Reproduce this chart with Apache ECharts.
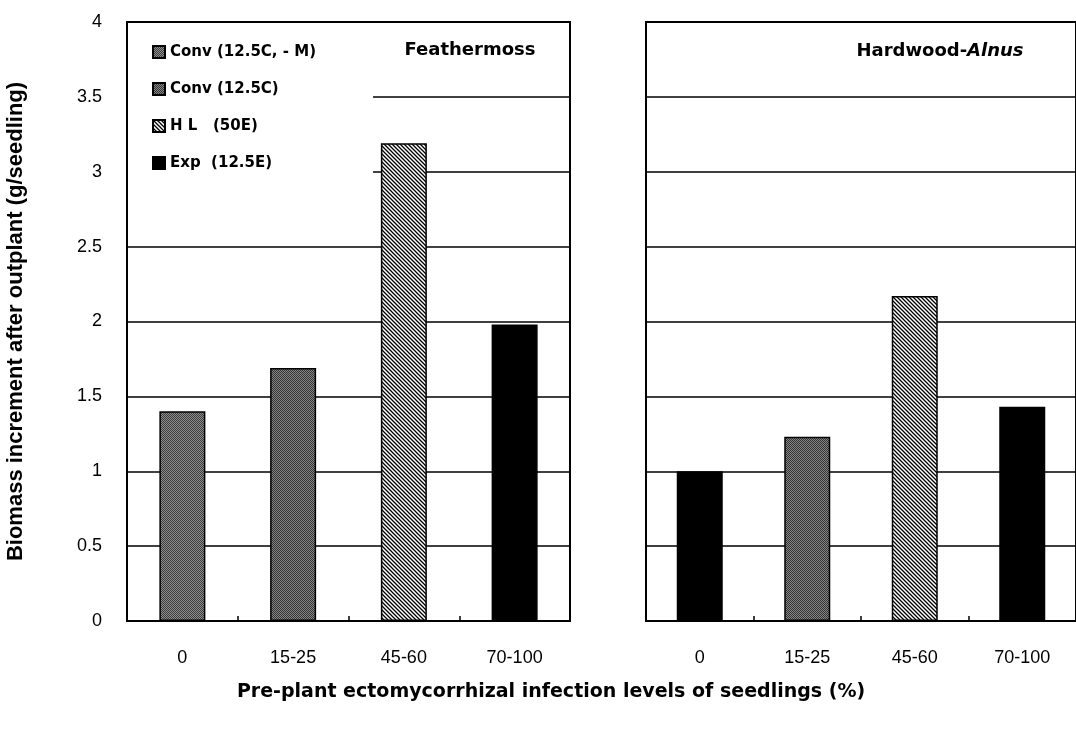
<!DOCTYPE html>
<html>
<head>
<meta charset="utf-8">
<script src="https://cdn.jsdelivr.net/npm/echarts@6/dist/echarts.min.js"></script>
<style>html,body{margin:0;padding:0;background:#fff;}#c{width:1076px;height:731px;}</style>
</head>
<body>
<div id="c"></div>
<script>
// ---- data ----
var categories = ['0', '15-25', '45-60', '70-100'];
var seriesNames = ['Conv (12.5C, - M)', 'Conv (12.5C)', 'H L   (50E)', 'Exp  (12.5E)'];
// Feathermoss panel
var featherConvM = [1.40, '-', '-', '-'];
var featherConv  = ['-', 1.69, '-', '-'];
var featherHL    = ['-', '-', 3.19, '-'];
var featherExp   = ['-', '-', '-', 1.98];
// Hardwood-Alnus panel
var hardConvM = ['-', '-', '-', '-'];
var hardConv  = ['-', 1.23, '-', '-'];
var hardHL    = ['-', '-', 2.17, '-'];
var hardExp   = [1.00, '-', '-', 1.43];
var yTicks = { min: 0, max: 4, interval: 0.5 };
var panelTitles = ['Feathermoss', 'Hardwood-', 'Alnus'];
var yTitle = 'Biomass increment after outplant (g/seedling)';
var xTitle = 'Pre-plant ectomycorrhizal infection levels of seedlings (%)';

// ---- patterns ----
function makeGray(light, dark) {
  var c = document.createElement('canvas'); c.width = 4; c.height = 4;
  var g = c.getContext('2d');
  g.fillStyle = light; g.fillRect(0, 0, 4, 4);
  g.fillStyle = dark;
  for (var i = 0; i < 4; i++) { g.fillRect(i, i, 1, 1); g.fillRect((i + 2) % 4, i, 1, 1); }
  return { image: c, repeat: 'repeat' };
}
function makeHatch() {
  var c = document.createElement('canvas'); c.width = 4; c.height = 4;
  var g = c.getContext('2d');
  g.fillStyle = '#fff'; g.fillRect(0, 0, 4, 4);
  g.strokeStyle = '#000'; g.lineWidth = 1.3;
  g.beginPath();
  g.moveTo(-1, -1); g.lineTo(5, 5);
  g.moveTo(-1, 3); g.lineTo(1, 5);
  g.moveTo(3, -1); g.lineTo(5, 1);
  g.stroke();
  return { image: c, repeat: 'repeat' };
}
var fills = [makeGray('#8e8e8e', '#3c3c3c'), makeGray('#868686', '#343434'), makeHatch(), '#000'];

var font = "'Liberation Sans', Arial, Helvetica, sans-serif";
var chart = echarts.init(document.getElementById('c'), null, { renderer: 'canvas' });

function mk(name, data, idx, fill) {
  return {
    name: name, type: 'bar', data: data,
    xAxisIndex: idx, yAxisIndex: idx,
    barWidth: 46, barGap: '-100%',
    itemStyle: { color: fill, borderColor: '#000', borderWidth: 1.5 },
    emphasis: { disabled: true },
    animation: false
  };
}

function xAx(idx) {
  return {
    type: 'category', gridIndex: idx, data: categories,
    axisLine: { lineStyle: { color: '#000', width: 2 } },
    axisTick: { show: true, inside: true, length: 5, lineStyle: { color: '#000', width: 1.5 } },
    axisLabel: { color: '#000', fontSize: 18, fontFamily: font, margin: 28 }
  };
}
function yAx(idx) {
  return {
    type: 'value', gridIndex: idx, min: yTicks.min, max: yTicks.max, interval: yTicks.interval,
    axisLine: { show: true, lineStyle: { color: '#000', width: 2 } },
    axisTick: { show: false },
    axisLabel: { show: idx === 0, color: '#000', fontSize: 18, fontFamily: font, margin: 25 },
    splitLine: { show: true, lineStyle: { color: '#000', width: 1.6 } },
    name: idx === 0 ? yTitle : '',
    nameLocation: 'middle', nameGap: 100, nameRotate: 90,
    nameTextStyle: { color: '#000', fontSize: 22, fontWeight: 'bold', fontFamily: font }
  };
}

chart.setOption({
  animation: false,
  backgroundColor: '#fff',
  grid: [
    { left: 127, top: 22, width: 443, height: 599, show: true, borderColor: '#000', borderWidth: 2 },
    { left: 646, top: 22, width: 443, height: 599, show: true, borderColor: '#000', borderWidth: 2 }
  ],
  xAxis: [xAx(0), xAx(1)],
  yAxis: [yAx(0), yAx(1)],
  legend: {
    data: seriesNames,
    icon: 'rect',
    orient: 'vertical', left: 128, top: 24,
    padding: [20, 57, 8, 24],
    itemGap: 21, itemWidth: 12, itemHeight: 12,
    backgroundColor: '#fff',
    selectedMode: false,
    textStyle: { color: '#000', fontSize: 15, fontWeight: 'bold', fontFamily: 'DejaVu Sans, sans-serif', lineHeight: 16 }
  },
  series: [
    mk(seriesNames[0], featherConvM, 0, fills[0]),
    mk(seriesNames[1], featherConv, 0, fills[1]),
    mk(seriesNames[2], featherHL, 0, fills[2]),
    mk(seriesNames[3], featherExp, 0, fills[3]),
    mk(seriesNames[0], hardConvM, 1, fills[0]),
    mk(seriesNames[1], hardConv, 1, fills[1]),
    mk(seriesNames[2], hardHL, 1, fills[2]),
    mk(seriesNames[3], hardExp, 1, fills[3])
  ],
  graphic: [
    { type: 'text', x: 470, y: 50, z: 100,
      style: { text: panelTitles[0], fill: '#000', font: 'bold 18px DejaVu Sans, sans-serif', textAlign: 'center', textVerticalAlign: 'middle' } },
    { type: 'text', x: 940, y: 51, z: 100,
      style: { text: '{a|' + panelTitles[1] + '}{b|' + panelTitles[2] + '}', align: 'center', verticalAlign: 'middle',
        rich: { a: { fontSize: 18, fontWeight: 'bold', fontFamily: 'DejaVu Sans, sans-serif', fill: '#000' },
                b: { fontSize: 18, fontWeight: 'bold', fontStyle: 'italic', fontFamily: 'DejaVu Sans, sans-serif', fill: '#000' } } } },
    { type: 'text', x: 551, y: 692, z: 100,
      style: { text: xTitle, fill: '#000', font: 'bold 19px DejaVu Sans, sans-serif', textAlign: 'center', textVerticalAlign: 'middle' } }
  ]
});
</script>
</body>
</html>
